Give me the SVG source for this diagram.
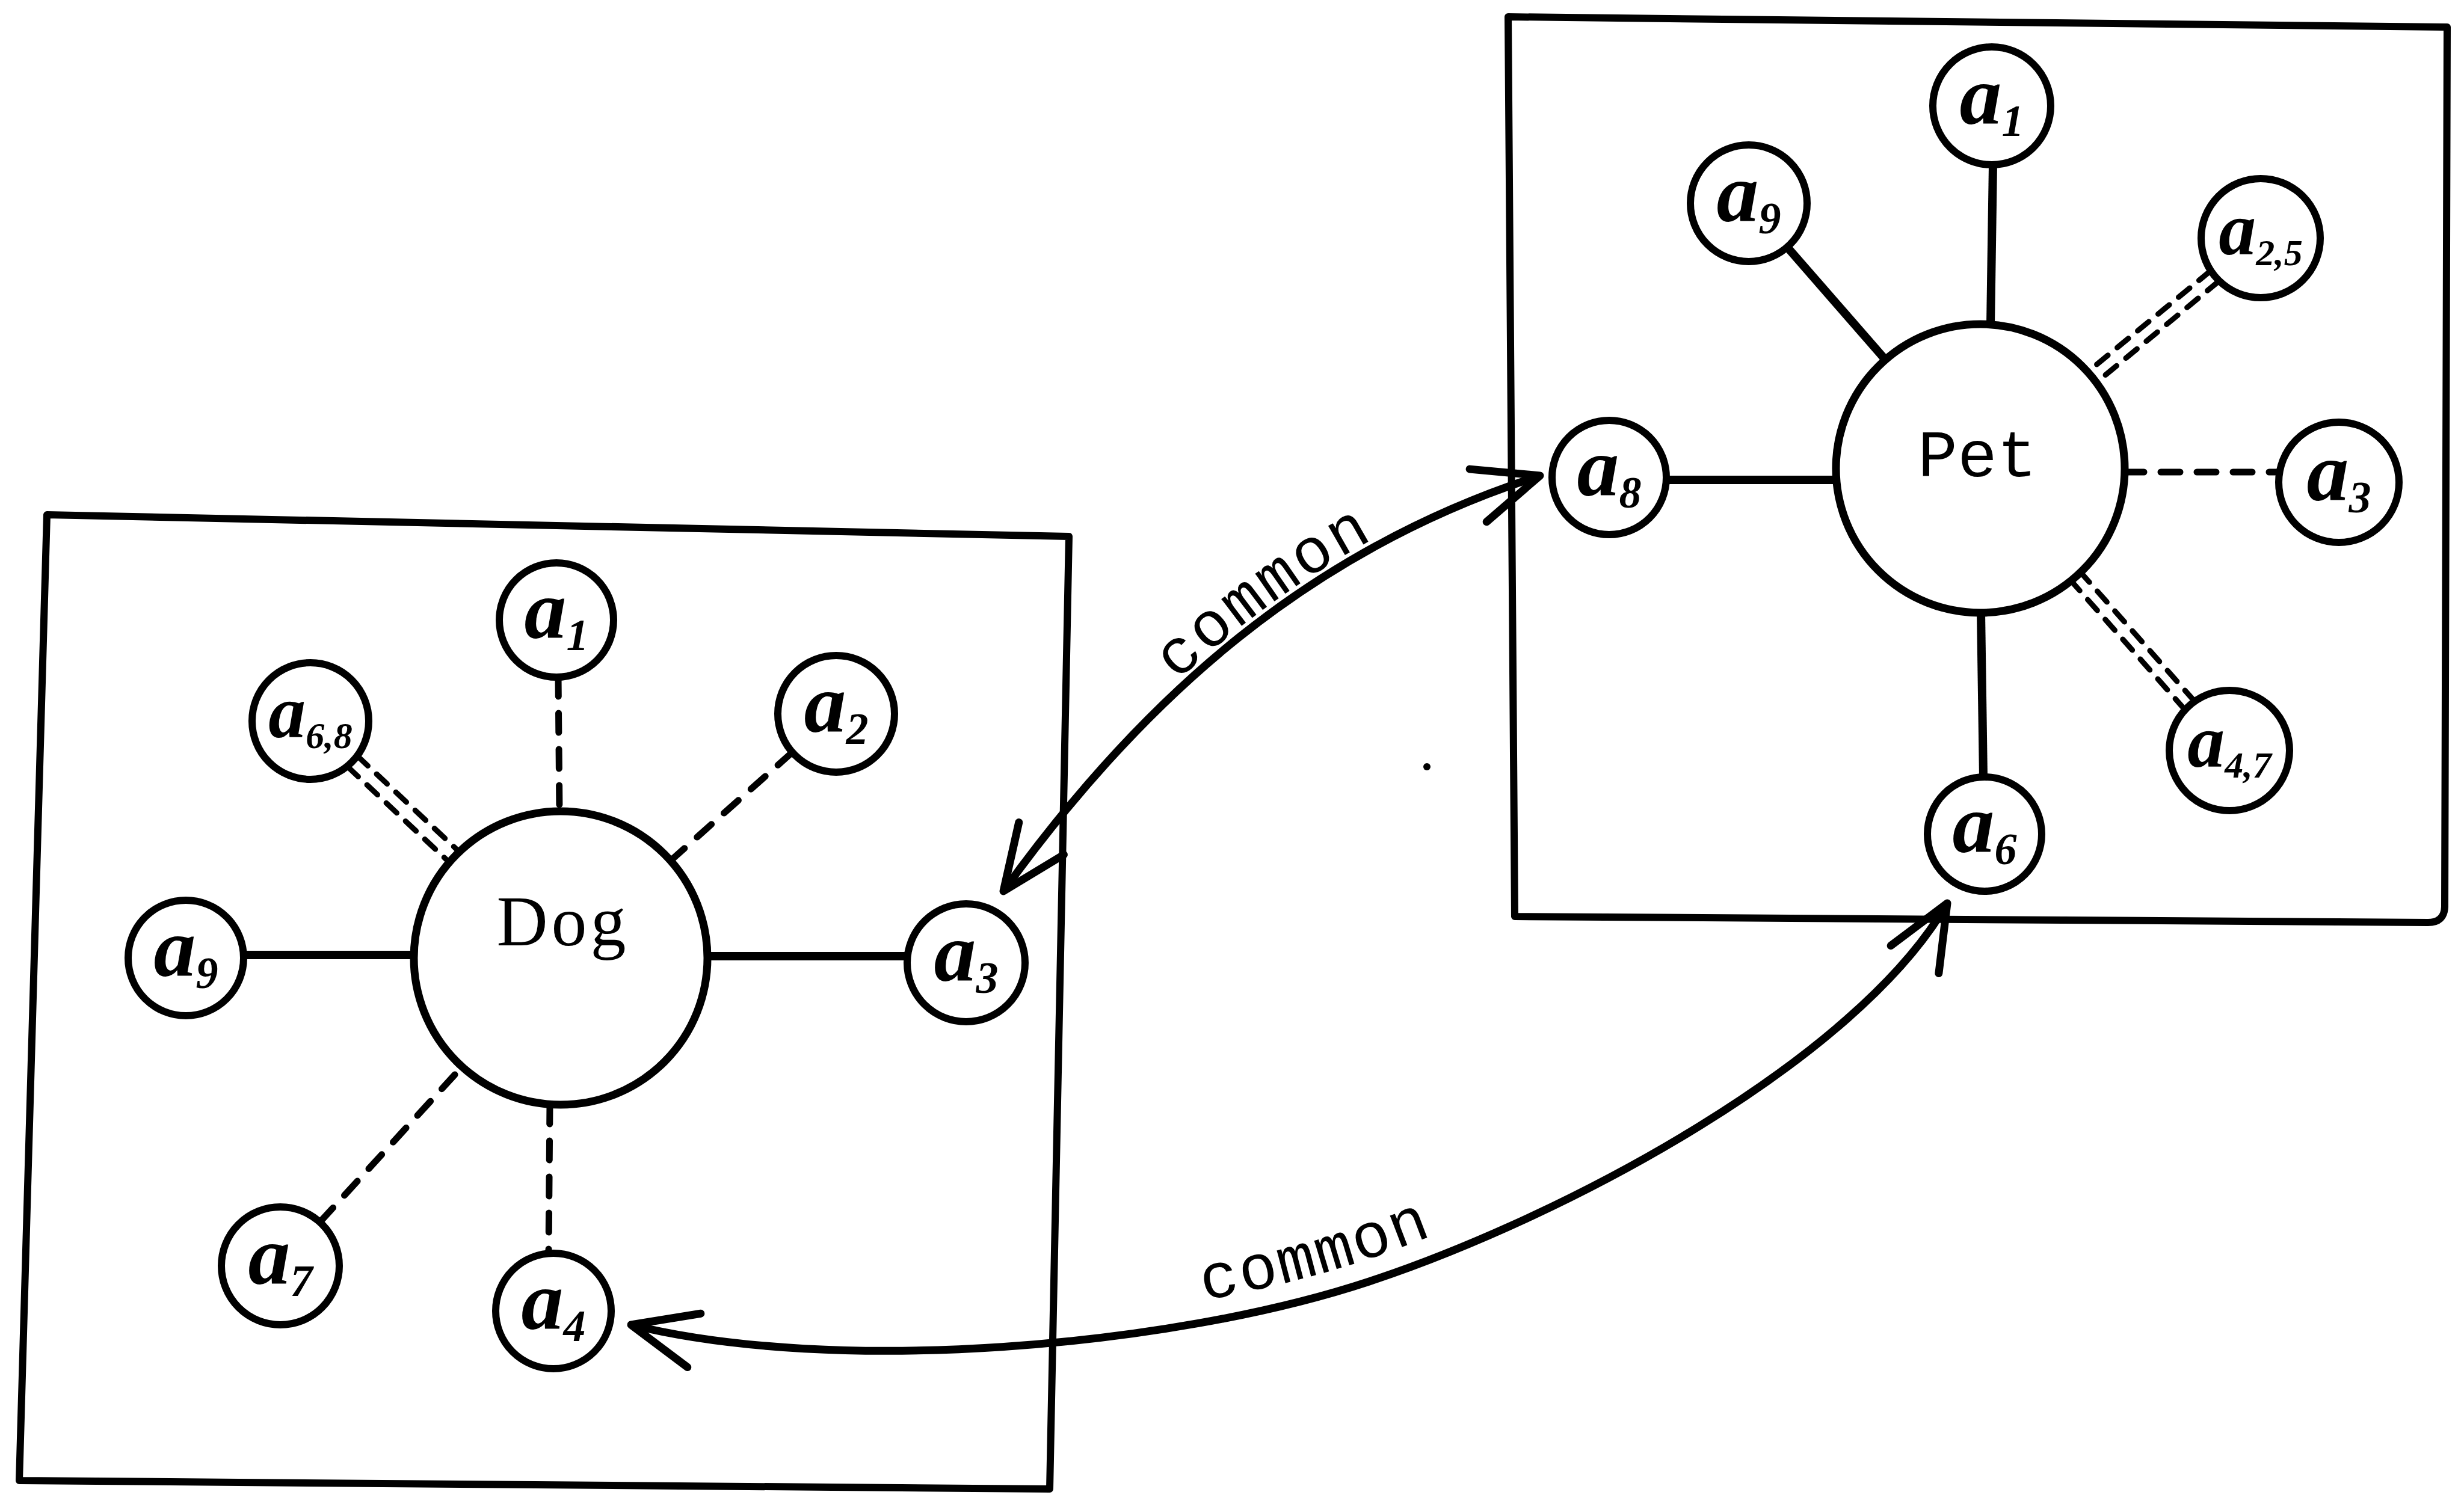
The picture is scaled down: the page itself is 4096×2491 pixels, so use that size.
<svg xmlns="http://www.w3.org/2000/svg" width="4096" height="2491" viewBox="0 0 4096 2491">
  <defs>
    <style>
      .frame { fill: none; stroke: #000; stroke-width: 12; stroke-linejoin: round; }
      .hub { fill: #fff; stroke: #000; stroke-width: 13; }
      .sat { fill: #fff; stroke: #000; stroke-width: 12; }
      .solid { fill: none; stroke: #000; stroke-width: 14; }
      .dash { fill: none; stroke: #000; stroke-width: 11; stroke-dasharray: 32 28; stroke-linecap: round; }
      .dash2 { fill: none; stroke: #000; stroke-width: 9; stroke-dasharray: 24 20; stroke-linecap: round; }
      .curve { fill: none; stroke: #000; stroke-width: 13; marker-start: url(#head); marker-end: url(#head); }
      .hubtxt { font-family: "Liberation Mono", "DejaVu Sans Mono", monospace; font-size: 110px; text-anchor: middle; fill: #000; }
      .hubtxt.serif { font-family: "Liberation Serif", "DejaVu Serif", serif; font-size: 118px; letter-spacing: 6px; }
      .lbl { font-family: "Liberation Serif", "DejaVu Serif", serif; font-style: italic; font-weight: bold; font-size: 140px; text-anchor: middle; fill: #000; }
      .lbl.small { font-size: 124px; }
      .sub { font-size: 74px; }
      .lbl.small .sub { font-size: 62px; }
      .rel { font-family: "Liberation Mono", "DejaVu Sans Mono", monospace; font-size: 106px; letter-spacing: 4px; fill: #000; }
    </style>
    <marker id="head" viewBox="-120 -60 130 120" refX="0" refY="0" markerWidth="130" markerHeight="120" markerUnits="userSpaceOnUse" orient="auto-start-reverse" overflow="visible">
      <path d="M -108,-46 L 0,0 L -108,46" fill="none" stroke="#000" stroke-width="13" stroke-linecap="round" stroke-linejoin="round"/>
    </marker>
  </defs>

  <rect width="4096" height="2491" fill="#fff"/>

  <!-- frames -->
  <g id="dog-frame">
    <path class="frame" d="M 78,856 L 1777,892 L 1745,2476 L 32,2462 Z"/>
  </g>
  <g id="pet-frame">
    <path class="frame" d="M 2507,28 L 4068,45 L 4064,1508 Q 4063,1534 4036,1534 L 2518,1524 Z"/>
  </g>

  <!-- connectors -->
  <g id="connectors">
    <!-- Dog spokes -->
    <line class="dash" x1="928" y1="1126" x2="930" y2="1349"/>
    <line class="dash2" x1="594" y1="1257" x2="763" y2="1416"/>
    <line class="dash2" x1="578" y1="1275" x2="747" y2="1434"/>
    <line class="dash" x1="1317" y1="1251" x2="1115" y2="1431"/>
    <line class="solid" x1="405" y1="1588" x2="688" y2="1588"/>
    <line class="solid" x1="1176" y1="1590" x2="1508" y2="1590"/>
    <line class="dash" x1="532" y1="2032" x2="768" y2="1774"/>
    <line class="dash" x1="914" y1="1837" x2="912" y2="2084"/>

    <!-- Pet spokes -->
    <line class="solid" x1="3313" y1="274" x2="3309" y2="539"/>
    <line class="solid" x1="2971" y1="411" x2="3134" y2="598"/>
    <line class="dash2" x1="3688" y1="468" x2="3485" y2="636"/>
    <line class="dash2" x1="3674" y1="451" x2="3471" y2="618"/>
    <line class="solid" x1="2770" y1="798" x2="3052" y2="798"/>
    <line class="dash" x1="3532" y1="785" x2="3788" y2="785"/>
    <line class="dash2" x1="3648" y1="1166" x2="3459" y2="952"/>
    <line class="dash2" x1="3632" y1="1180" x2="3443" y2="966"/>
    <line class="solid" x1="3293" y1="1019" x2="3297" y2="1292"/>

    <!-- relations between the two frames -->
    <path id="rel-a3-a8" class="curve" d="M 1668,1482 C 1902,1157 2179,913 2560,791"/>
    <path id="rel-a4-a6" class="curve" d="M 1049,2203 C 1389,2287 1944,2241 2276,2131 C 2608,2021 3087,1762 3237,1502"/>
    <text class="rel" dy="-12"><textPath href="#rel-a3-a8" startOffset="57%" text-anchor="middle">common</textPath></text>
    <text class="rel" dy="-36"><textPath href="#rel-a4-a6" startOffset="48.5%" text-anchor="middle">common</textPath></text>
  </g>

  <!-- Dog nodes -->
  <g id="dog">
    <circle class="hub" cx="932" cy="1593" r="244"/>
    <text class="hubtxt serif" x="936" y="1572">Dog</text>
  </g>
  <g id="dog-a1">
    <circle class="sat" cx="925" cy="1031" r="95"/>
    <text class="lbl" x="925" y="1061">a<tspan class="sub" dy="20">1</tspan></text>
  </g>
  <g id="dog-a6-8">
    <circle class="sat" cx="516" cy="1199" r="97"/>
    <text class="lbl small" x="516" y="1226">a<tspan class="sub" dy="18">6,8</tspan></text>
  </g>
  <g id="dog-a2">
    <circle class="sat" cx="1390" cy="1187" r="97"/>
    <text class="lbl" x="1390" y="1217">a<tspan class="sub" dy="20">2</tspan></text>
  </g>
  <g id="dog-a9">
    <circle class="sat" cx="309" cy="1593" r="96"/>
    <text class="lbl" x="309" y="1623">a<tspan class="sub" dy="20">9</tspan></text>
  </g>
  <g id="dog-a3">
    <circle class="sat" cx="1606" cy="1601" r="98"/>
    <text class="lbl" x="1606" y="1631">a<tspan class="sub" dy="20">3</tspan></text>
  </g>
  <g id="dog-a7">
    <circle class="sat" cx="466" cy="2105" r="98"/>
    <text class="lbl" x="466" y="2135">a<tspan class="sub" dy="20">7</tspan></text>
  </g>
  <g id="dog-a4">
    <circle class="sat" cx="920" cy="2180" r="96"/>
    <text class="lbl" x="920" y="2210">a<tspan class="sub" dy="20">4</tspan></text>
  </g>

  <!-- Pet nodes -->
  <g id="pet">
    <circle class="hub" cx="3292" cy="779" r="240"/>
    <text class="hubtxt" x="3287" y="792">Pet</text>
  </g>
  <g id="pet-a1">
    <circle class="sat" cx="3311" cy="176" r="98"/>
    <text class="lbl" x="3311" y="206">a<tspan class="sub" dy="20">1</tspan></text>
  </g>
  <g id="pet-a9">
    <circle class="sat" cx="2907" cy="338" r="97"/>
    <text class="lbl" x="2907" y="368">a<tspan class="sub" dy="20">9</tspan></text>
  </g>
  <g id="pet-a2-5">
    <circle class="sat" cx="3758" cy="396" r="99"/>
    <text class="lbl small" x="3758" y="423">a<tspan class="sub" dy="18">2,5</tspan></text>
  </g>
  <g id="pet-a8">
    <circle class="sat" cx="2675" cy="794" r="95"/>
    <text class="lbl" x="2675" y="824">a<tspan class="sub" dy="20">8</tspan></text>
  </g>
  <g id="pet-a3">
    <circle class="sat" cx="3888" cy="802" r="100"/>
    <text class="lbl" x="3888" y="832">a<tspan class="sub" dy="20">3</tspan></text>
  </g>
  <g id="pet-a4-7">
    <circle class="sat" cx="3706" cy="1248" r="100"/>
    <text class="lbl small" x="3706" y="1275">a<tspan class="sub" dy="18">4,7</tspan></text>
  </g>
  <g id="pet-a6">
    <circle class="sat" cx="3299" cy="1387" r="95"/>
    <text class="lbl" x="3299" y="1417">a<tspan class="sub" dy="20">6</tspan></text>
  </g>

  <!-- ink speck -->
  <circle cx="2372" cy="1275" r="6" fill="#000"/>
</svg>
